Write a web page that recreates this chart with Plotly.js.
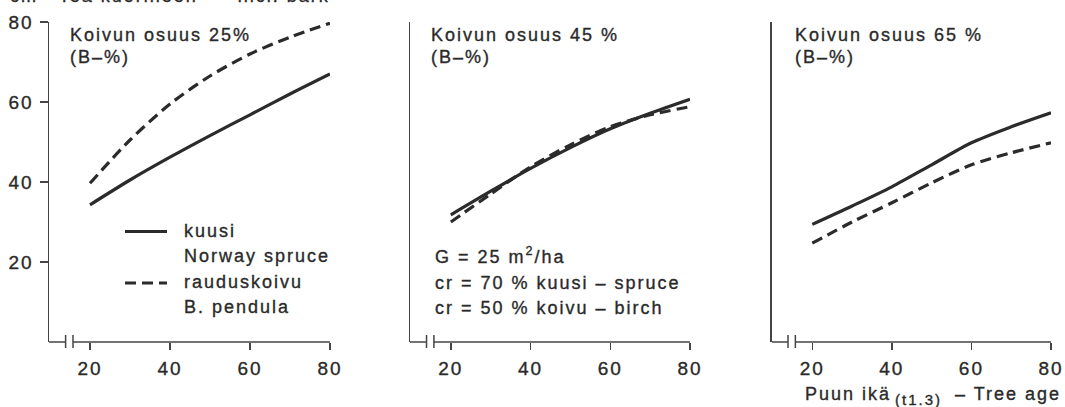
<!DOCTYPE html>
<html>
<head>
<meta charset="utf-8">
<script src="https://cdn.plot.ly/plotly-3.0.1.min.js"></script>
<style>
  html, body { margin: 0; padding: 0; background: #fff; }
  #chart { width: 1065px; height: 407px; }
  /* the print typeface is set with generous tracking and a slightly heavy stroke */
  #chart svg text { letter-spacing: 2px; stroke: #2a2a2a; stroke-width: 0.35px; }
</style>
</head>
<body>
<div id="chart"></div>
<script>
// Tree age (years) at which the curves are evaluated
const ages = [20, 30, 40, 50, 60, 70, 80];

// Birch share 25 %
const spruce25 = [34.3, 40.5, 46.2, 51.6, 56.8, 62.0, 67.0];
const birch25  = [39.7, 50.5, 59.5, 66.5, 72.0, 76.2, 79.7];
// Birch share 45 %
const spruce45 = [31.8, 37.7, 43.4, 48.6, 53.3, 57.2, 60.7];
const birch45  = [30.0, 37.0, 43.8, 49.3, 53.8, 56.8, 58.8];
// Birch share 65 %
const spruce65 = [29.4, 34.0, 38.8, 44.3, 49.8, 53.8, 57.3];
const birch65  = [24.7, 30.0, 34.8, 39.8, 44.3, 47.3, 49.8];

const panelTitles = ["Koivun osuus 25%", "Koivun osuus 45 %", "Koivun osuus 65 %"];
const panelSubtitle = "(B\u2013%)";
const legendLabels = [["kuusi", "Norway spruce"], ["rauduskoivu", "B. pendula"]];
const standNotes = ["G = 25 m<sup>2</sup>/ha", "cr = 70 % kuusi \u2013 spruce", "cr = 50 % koivu \u2013 birch"];
const xTicks = [20, 40, 60, 80];
const yTicks = [20, 40, 60, 80];
const yUnitLabel = "cm   Tea kuorineen  \u2013  incl. bark";
const xTitleParts = ["Puun ikä", "(t1.3)", "\u2013 Tree age"];

// ---- geometry helpers (pixel -> paper) ----
const W = 1065, H = 407;
const M = { l: 49, r: 14, t: 22, b: 65 };
const PW = W - M.l - M.r, PH = H - M.t - M.b;
const px = x => (x - M.l) / PW;
const py = y => (H - M.b - y) / PH;

const INK = "#2b2b2b";
const TXT = "#2a2a2a";
const FONT = "Liberation Sans, Arial, sans-serif";
const DASH = "11px,6px";

const domains = [[0, px(330)], [px(410), px(690)], [px(771.5), 1]];
const xRange = [9.75, 80];

const series = [[spruce25, birch25], [spruce45, birch45], [spruce65, birch65]];
const traces = [];
series.forEach((pair, i) => {
  const xa = i === 0 ? "x" : "x" + (i + 1);
  const ya = i === 0 ? "y" : "y" + (i + 1);
  traces.push({ x: ages, y: pair[0], xaxis: xa, yaxis: ya, mode: "lines", name: legendLabels[0][0],
    line: { color: INK, width: 3.2, shape: "spline", smoothing: 0.8 }, showlegend: false, hoverinfo: "skip" });
  traces.push({ x: ages, y: pair[1], xaxis: xa, yaxis: ya, mode: "lines", name: legendLabels[1][0],
    line: { color: INK, width: 3.2, dash: DASH, shape: "spline", smoothing: 0.8 }, showlegend: false, hoverinfo: "skip" });
});

const layout = {
  width: W, height: H,
  margin: M,
  paper_bgcolor: "#fff", plot_bgcolor: "rgba(0,0,0,0)",
  font: { family: FONT, color: TXT, size: 18 },
  showlegend: false,
  annotations: [], shapes: []
};

function textAt(text, x, baseline, size, extra) {
  return Object.assign({
    text, xref: "paper", yref: "paper", x: px(x), y: py(baseline + 0.26 * size + 1),
    xanchor: "left", yanchor: "bottom", showarrow: false, align: "left",
    font: { size, color: TXT, family: FONT }
  }, extra || {});
}

for (let i = 0; i < 3; i++) {
  const s = i === 0 ? "" : String(i + 1);
  layout["xaxis" + s] = {
    domain: domains[i], range: xRange, anchor: "y" + s,
    showgrid: false, zeroline: false, showline: false,
    tickmode: "array", tickvals: xTicks, ticktext: xTicks.map(String),
    ticks: "outside", ticklen: 7, tickwidth: 1.5, tickcolor: "#444",
    tickfont: { size: 19, color: TXT, family: FONT }, ticklabelstandoff: 2,
    fixedrange: true
  };
  layout["yaxis" + s] = {
    domain: [0, 1], range: [0, 80], anchor: "x" + s,
    showgrid: false, zeroline: false,
    showline: true, linecolor: "#444", linewidth: 1.5,
    tickmode: "array", tickvals: yTicks, ticktext: yTicks.map(String),
    ticks: i === 0 ? "outside" : "", ticklen: 8, tickwidth: 1.5, tickcolor: "#444",
    showticklabels: i === 0,
    tickfont: { size: 19, color: TXT, family: FONT }, ticklabelstandoff: 2,
    fixedrange: true
  };

  const xa = "x" + s;
  // broken x axis: short stub, two break bars, then the scale proper
  layout.shapes.push({ type: "line", xref: xa, yref: "paper", x0: xRange[0], x1: 13.9, y0: 0, y1: 0,
    line: { color: "#444", width: 1.5 } });
  layout.shapes.push({ type: "line", xref: xa, yref: "paper", x0: 15.75, x1: 80, y0: 0, y1: 0,
    line: { color: "#444", width: 1.5 } });
  [13.9, 15.75].forEach(bx => {
    layout.shapes.push({ type: "line", xref: xa, yref: "paper", ysizemode: "pixel", yanchor: 0,
      x0: bx, x1: bx, y0: -6, y1: 7, line: { color: "#444", width: 1.5 } });
  });

  // panel heading
  const tx = [68, 429, 792.5][i];
  layout.annotations.push(textAt(panelTitles[i], tx, 41, 18));
  layout.annotations.push(textAt(panelSubtitle, tx, 63, 18));
}

// key for the two species, drawn inside the first panel
const keyBase = [237, 262, 288, 313];
layout.annotations.push(textAt(legendLabels[0][0], 182, keyBase[0], 18));
layout.annotations.push(textAt(legendLabels[0][1], 182, keyBase[1], 18));
layout.annotations.push(textAt(legendLabels[1][0], 182, keyBase[2], 18));
layout.annotations.push(textAt(legendLabels[1][1], 182, keyBase[3], 18));
layout.shapes.push({ type: "line", xref: "paper", yref: "paper", x0: px(125), x1: px(167), y0: py(231.5), y1: py(231.5),
  line: { color: INK, width: 3.2 } });
layout.shapes.push({ type: "line", xref: "paper", yref: "paper", x0: px(125), x1: px(167), y0: py(283), y1: py(283),
  line: { color: INK, width: 3.2, dash: DASH } });

// stand description in the middle panel
const noteBase = [263, 289, 314];
standNotes.forEach((t, k) => layout.annotations.push(textAt(t, 433, noteBase[k], 18)));

// unit line above the y axis (runs off the top edge)
layout.annotations.push(textAt(yUnitLabel, 8, 2, 18));

// x axis title under the last panel, with the smaller lowered age symbol
layout.annotations.push(textAt(xTitleParts[0], 803, 400, 18));
layout.annotations.push(textAt(xTitleParts[1], 893, 405, 15));
layout.annotations.push(textAt(xTitleParts[2], 953, 400, 18));

Plotly.newPlot("chart", traces, layout, { staticPlot: true, displayModeBar: false });
</script>
</body>
</html>
